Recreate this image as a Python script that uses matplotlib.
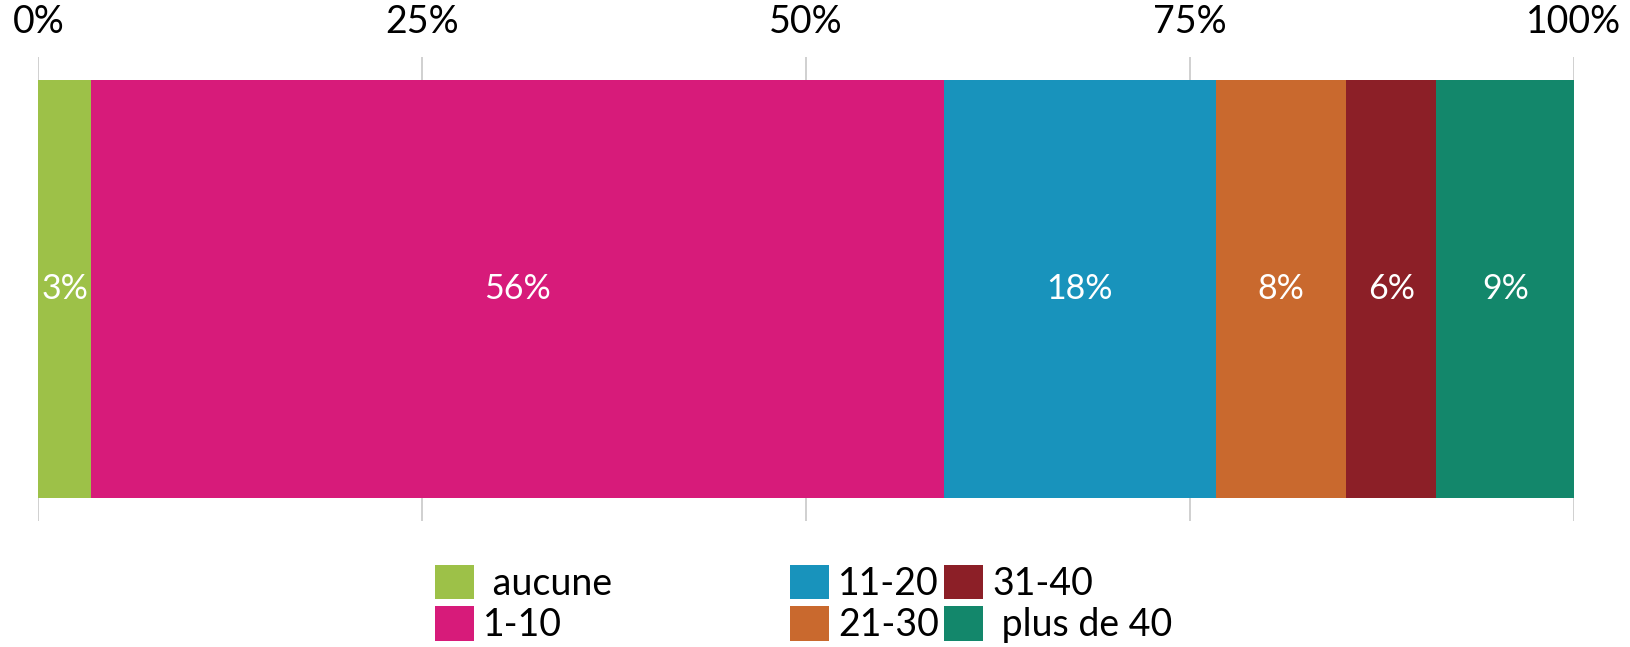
import numpy as np
import matplotlib
matplotlib.use("Agg")
import matplotlib.pyplot as plt
from matplotlib.patches import Patch

plt.rcParams['font.family'] = ['Lato', 'DejaVu Sans']

# share of each category (percent)
categories = ["aucune", "1-10", "11-20", "21-30", "31-40", "plus de 40"]
legend_labels = [" aucune", "1-10", "11-20", "21-30", "31-40", " plus de 40"]
values = [3.45, 55.5, 17.75, 8.45, 5.9, 8.95]
value_labels = ["3%", "56%", "18%", "8%", "6%", "9%"]
colors = ["#9DC148", "#D71B7A", "#1893BC", "#C9692E", "#8C1F27", "#13876B"]
ticks = [0, 25, 50, 75, 100]

fig = plt.figure(figsize=(16.31, 6.47), dpi=100)
ax = fig.add_axes([0.0236, 0.1947, 0.9414, 0.7172])

left = 0.0
for val, lab, col in zip(values, value_labels, colors):
    ax.barh(0, val, left=left, height=0.899, color=col, zorder=3)
    ax.text(left + val / 2, 0, lab, color="white", fontsize=24.5,
            ha="center", va="center", zorder=4)
    left += val

ax.set_xlim(0, 100)
ax.set_ylim(-0.5, 0.5)
ax.set_xticks(ticks)
ax.set_xticklabels([f"{t}%" for t in ticks], fontsize=27)
ax.xaxis.tick_top()
ax.tick_params(axis="x", length=0, pad=12)
ax.set_yticks([])
ax.grid(axis="x", color="#c8c8c8", linewidth=1.2, zorder=0)
for s in ax.spines.values():
    s.set_visible(False)

handles = [Patch(facecolor=c) for c in colors]
kw = dict(frameon=False, fontsize=27, handlelength=1.03, handleheight=1.03,
          handletextpad=0.25, labelspacing=0.12, borderpad=0, borderaxespad=0,
          loc="upper left")
leg1 = fig.legend(handles[:2], legend_labels[:2], ncol=1,
                  bbox_to_anchor=(435 / 1631, 1 - 565 / 647), **kw)
leg2 = fig.legend(handles[2:], legend_labels[2:], ncol=2, columnspacing=0.15,
                  bbox_to_anchor=(790 / 1631, 1 - 565 / 647), **kw)

fig.savefig("out.png", dpi=100)
